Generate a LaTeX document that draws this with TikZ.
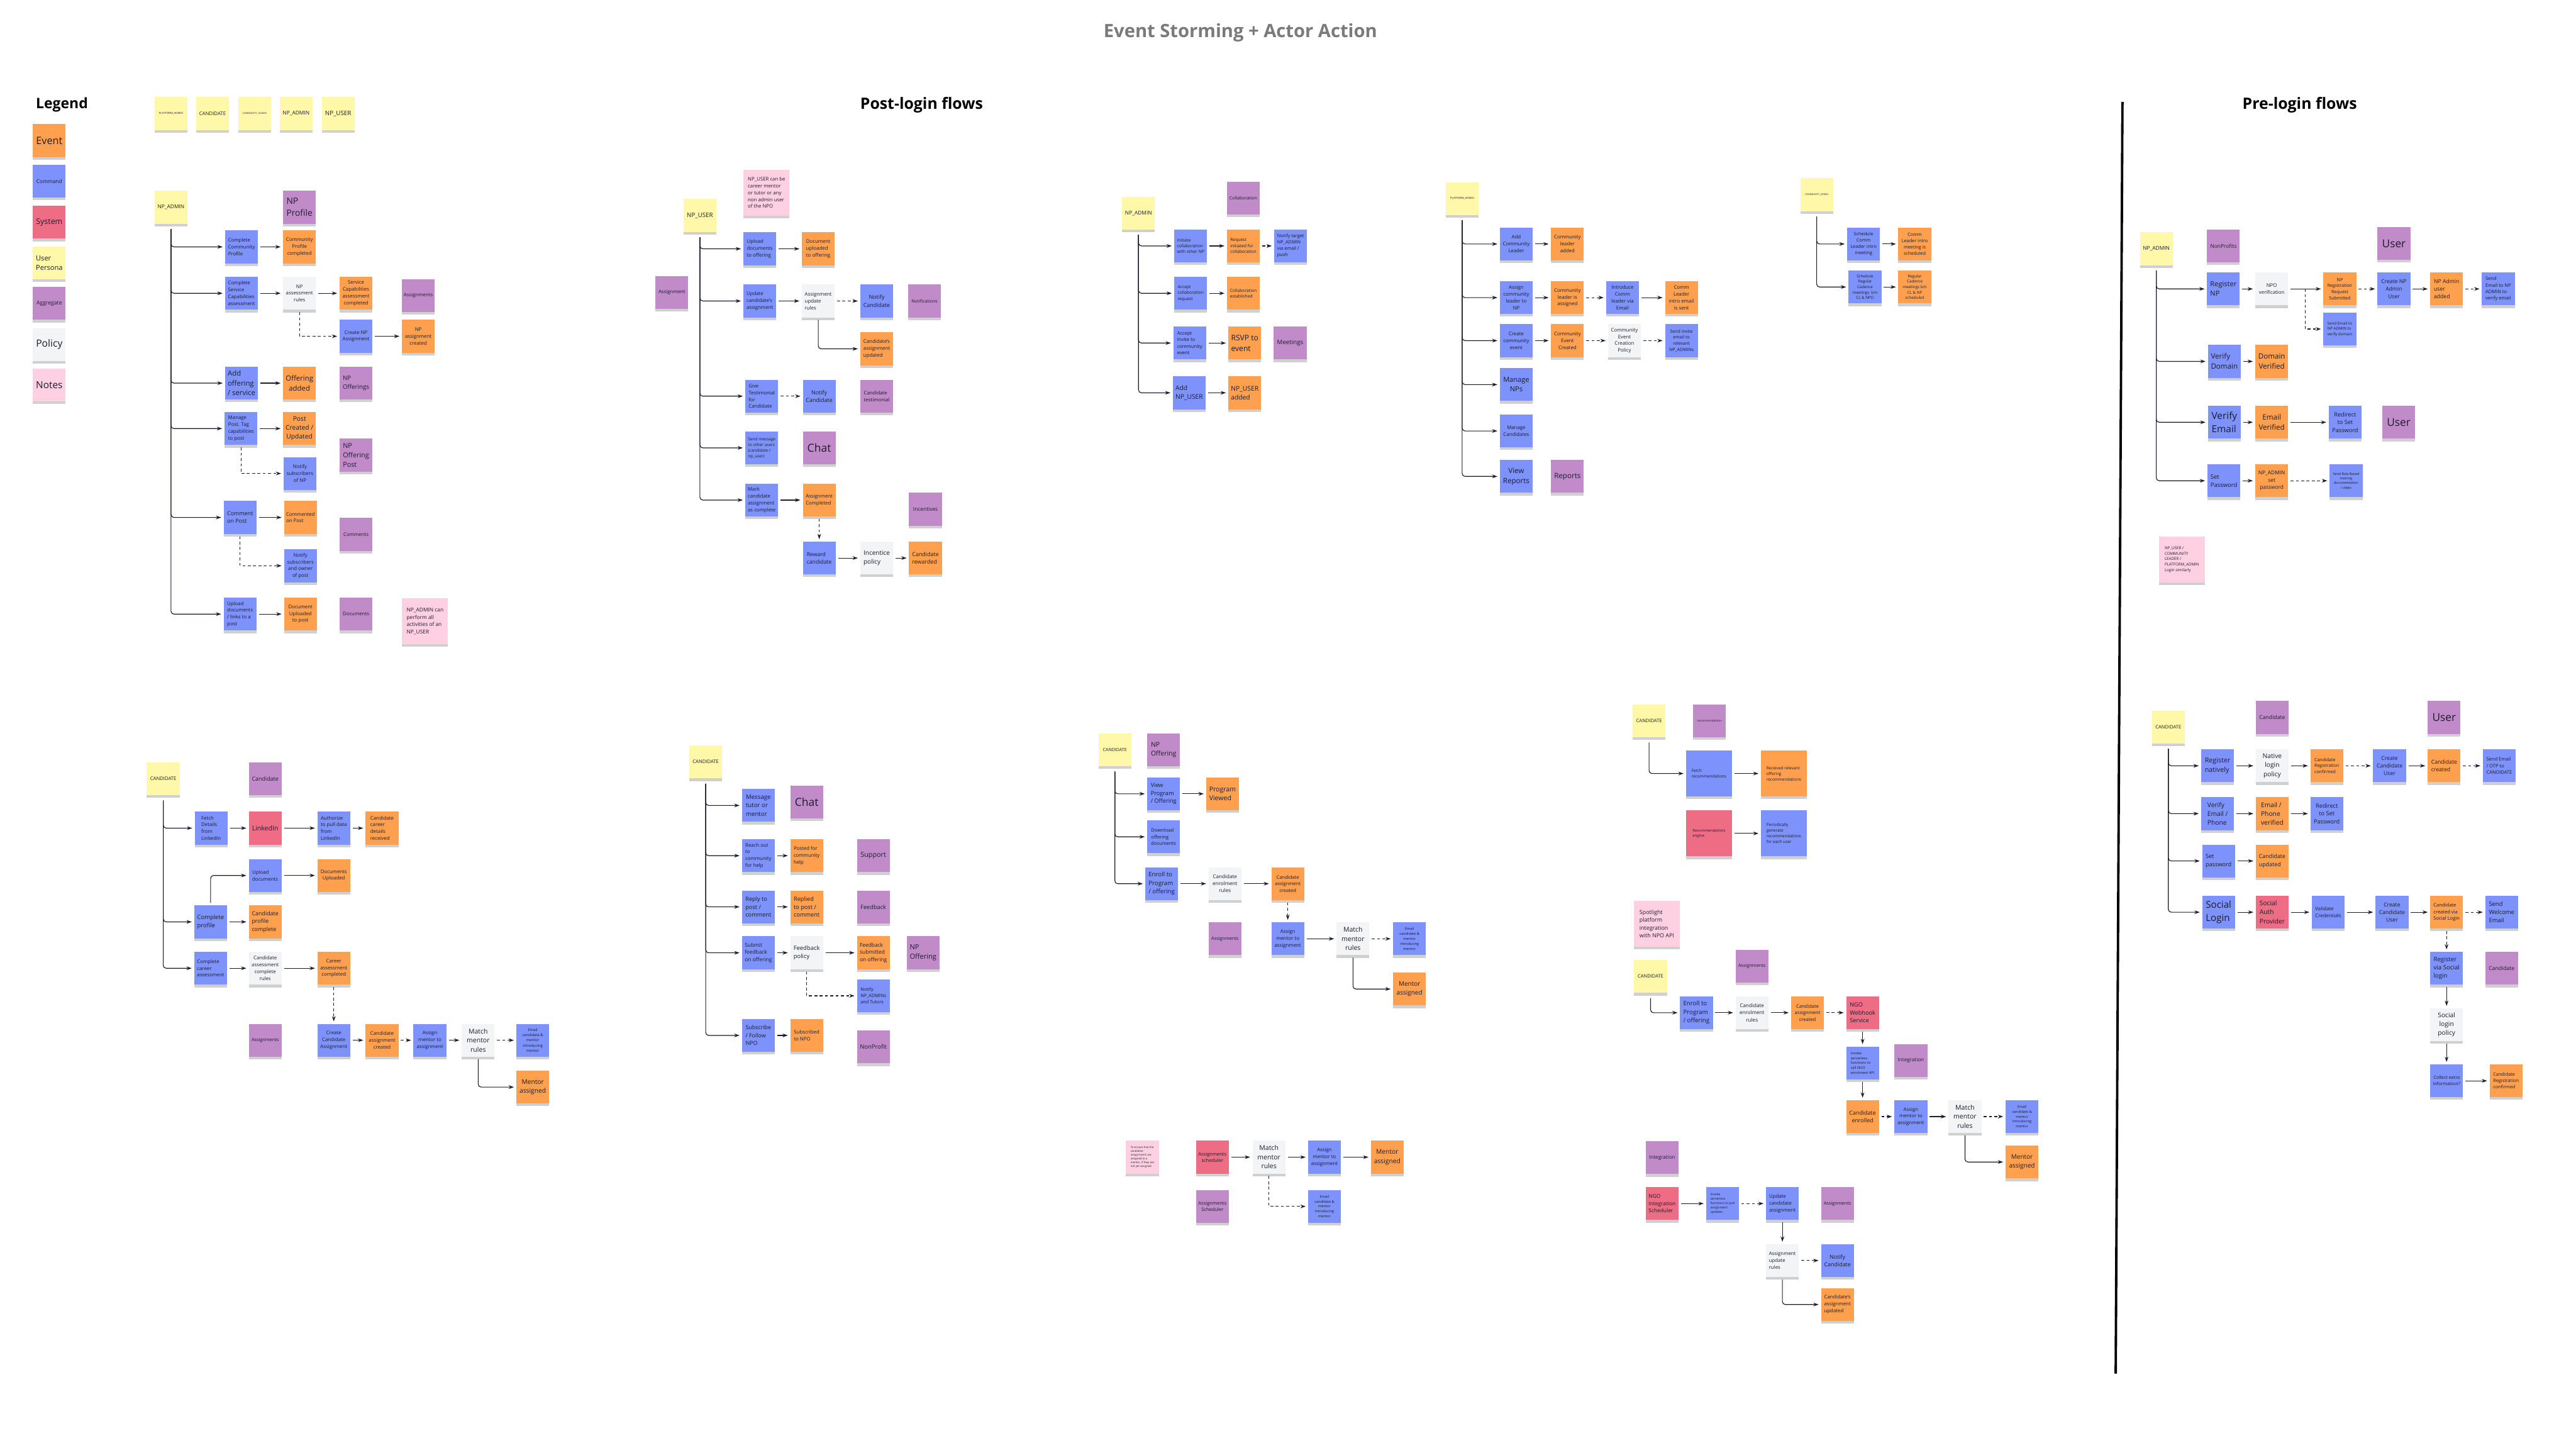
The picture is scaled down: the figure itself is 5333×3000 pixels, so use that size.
\documentclass[tikz,border=0pt]{standalone}
\usepackage{fontspec}
\setmainfont{Open Sans}
\usepackage{tikz}
\usetikzlibrary{arrows.meta,positioning,calc,shadows}
\definecolor{evorange}{HTML}{FFA04E}
\definecolor{cmdblue}{HTML}{7D92FA}
\definecolor{sysred}{HTML}{EE6C84}
\definecolor{peryellow}{HTML}{FFF8A8}
\definecolor{aggpurple}{HTML}{C18BCA}
\definecolor{polgray}{HTML}{F3F4F6}
\definecolor{notepink}{HTML}{FFD0E1}
\definecolor{ink}{HTML}{1C1C2E}
\definecolor{titlegray}{HTML}{7A7A7A}
\newcommand\fsz[1]{\pgfmathsetmacro\fszbl{#1*1.38}\fontsize{#1}{\fszbl}\selectfont}
\tikzset{
  sticky/.style={rectangle, minimum width=6.8mm, minimum height=6.8mm, inner sep=0.4mm,
    outer sep=0.5mm, align=left, font=\fsz{2.9}, text=ink,
    drop shadow={shadow xshift=0mm, shadow yshift=-0.55mm, opacity=0.3, fill=black!60}},
  event/.style={sticky, fill=evorange},
  cmd/.style={sticky, fill=cmdblue},
  sys/.style={sticky, fill=sysred},
  persona/.style={sticky, fill=peryellow, align=center},
  aggr/.style={sticky, fill=aggpurple},
  policy/.style={sticky, fill=polgray},
  note/.style={sticky, fill=notepink},
  wide/.style={minimum width=9.5mm, minimum height=9.5mm},
  fs/.style={font=\fsz{#1}},
  hdr/.style={font=\bfseries\fontsize{9.2}{11}\selectfont, text=black},
  flow/.style={draw=ink, line width=0.15mm, -{Stealth[length=1.1mm,width=0.75mm]}},
  flowd/.style={flow, dash pattern=on 0.6mm off 0.5mm},
  branch/.style={flow, rounded corners=0.6mm},
}
\begin{document}
\begin{tikzpicture}[x=0.1mm, y=-0.1mm]
  \fill[white] (0,0) rectangle (5333,3000);
  \useasboundingbox (0,0) rectangle (5333,3000);

  % Titles
  \node[font=\bfseries\fontsize{10.8}{13}\selectfont, text=titlegray] (title) at (2568,68) {Event Storming + Actor Action};
  \node[hdr] (hpost) at (1908,218) {Post-login flows};
  \node[hdr] (hpre) at (4761,218) {Pre-login flows};
  \node[hdr, font=\bfseries\fontsize{8.5}{10}\selectfont, anchor=west] (hleg) at (62,217) {Legend};
  \draw[line width=0.5mm] (4394,211) -- (4380,2843);

  % Legend
  \node[event, fs=6] (lgev) at (102,291) {Event};
  \node[cmd, fs=3.1] (lgcm) at (102,375) {Command};
  \node[sys, fs=4.6] (lgsy) at (102,460) {System};
  \node[persona, fs=4.1, align=left] (lgpe) at (102,544) {User\\Persona};
  \node[aggr, fs=3.2] (lgag) at (102,628) {Aggregate};
  \node[policy, fs=5.8] (lgpo) at (102,713) {Policy};
  \node[note, fs=5.7] (lgno) at (102,797) {Notes};

  % Personas
  \node[persona, fs=1.6] (prpa) at (354,235) {PLATFORM\_ADMIN};
  \node[persona, fs=2.9] (prca) at (440,235) {CANDIDATE};
  \node[persona, fs=1.4] (prcl) at (527,235) {COMMUNITY\_LEADER};
  \node[persona, fs=3.1] (prna) at (613,235) {NP\_ADMIN};
  \node[persona, fs=3.6] (prnu) at (700,235) {NP\_USER};

  % NP_ADMIN (post-login)
  \node[persona, fs=3.1] (aadm) at (354,429) {NP\_ADMIN};
  \node[aggr, fs=5.1] (aprof) at (620,429) {NP\\Profile};
  \node[cmd] (ac1) at (500,511) {Complete\\Community\\Profile};
  \node[event, align=center] (ae1) at (620,511) {Community\\Profile\\completed};
  \node[cmd] (ac2) at (500,607) {Complete\\Service\\Capabilities\\assessment};
  \node[policy, align=center] (ap2) at (620,607) {NP\\assessment\\rules};
  \node[event, align=center] (ae2) at (737,607) {Service\\Capabilities\\assessment\\completed};
  \node[aggr] (aag2) at (866,612) {Assignments};
  \node[cmd, align=center] (ac2b) at (737,696) {Create NP\\Assignment};
  \node[event, align=center] (ae2b) at (866,696) {NP\\assignment\\created};
  \node[cmd, fs=4.2] (ac3) at (500,793) {Add\\offering\\/ service};
  \node[event, fs=4.2, align=center] (ae3) at (620,793) {Offering\\added};
  \node[aggr, fs=3.6] (aag3) at (737,793) {NP\\Offerings};
  \node[cmd] (ac4) at (499,887) {Manage\\Post. Tag\\capabilities\\to post};
  \node[event, fs=3.8, align=center] (ae4) at (620,887) {Post\\Created /\\Updated};
  \node[aggr, fs=4] (aag4) at (737,942) {NP\\Offering\\Post};
  \node[cmd, align=center] (ac4b) at (621,980) {Notify\\subscribers\\of NP};
  \node[cmd, fs=3.3] (ac5) at (497,1071) {Comment\\on Post};
  \node[event] (ae5) at (622,1071) {Commented\\on Post};
  \node[aggr] (aag5) at (737,1106) {Comments};
  \node[cmd, align=center] (ac5b) at (622,1171) {Notify\\subscribers\\and owner\\of post};
  \node[cmd] (ac6) at (497,1271) {Upload\\documents\\/ links to a\\post};
  \node[event, align=center] (ae6) at (622,1271) {Document\\Uploaded\\to post};
  \node[aggr] (aag6) at (737,1271) {Documents};
  \node[note, wide, fs=3.1] (anote) at (880,1286) {NP\_ADMIN can\\perform all\\activities of an\\NP\_USER};
  \foreach \n in {ac1,ac2,ac3,ac4,ac5,ac6} {
    \draw[branch] ($(aadm.south)+(0,6)$) |- (\n.west);
  }
  \draw[flow] (ac1) -- (ae1);
  \draw[flow] (ac2) -- (ap2);
  \draw[flow] (ap2) -- (ae2);
  \draw[flowd] (ap2.south) |- (ac2b.west);
  \draw[flow] (ac2b) -- (ae2b);
  \draw[flow] (ac3) -- (ae3);
  \draw[flow] (ac4) -- (ae4);
  \draw[flowd] (ac4.south) |- (ac4b.west);
  \draw[flow] (ac5) -- (ae5);
  \draw[flowd] (ac5.south) |- (ac5b.west);
  \draw[flow] (ac6) -- (ae6);

  % NP_USER
  \node[persona, fs=3.6] (badm) at (1449,446) {NP\_USER};
  \node[note, wide, fs=2.9] (bnote) at (1587,399) {NP\_USER can be\\career mentor\\or tutor or any\\non admin user\\of the NPO};
  \node[aggr] (bag) at (1391,605) {Assignment};
  \node[cmd] (bc1) at (1573,515) {Upload\\documents\\to offering};
  \node[event] (be1) at (1694,515) {Document\\uploaded\\to offering};
  \node[cmd] (bc2) at (1573,623) {Update\\candidate's\\assignment};
  \node[policy] (bp2) at (1694,623) {Assignment\\update\\rules};
  \node[cmd, fs=3.3, align=center] (bc2b) at (1815,623) {Notify\\Candidate};
  \node[aggr, fs=2.6] (bag2) at (1914,623) {Notifications};
  \node[event] (be2) at (1815,722) {Candidate's\\assignment\\updated};
  \node[cmd] (bc3) at (1577,820) {Give\\Testimonial\\for\\Candidate};
  \node[cmd, fs=3.3, align=center] (bc3b) at (1696,820) {Notify\\Candidate};
  \node[aggr] (bag3) at (1815,820) {Candidate\\testimonial};
  \node[cmd, fs=2.4] (bc4) at (1577,927) {Send message\\to other users\\(candidate /\\np\_user)};
  \node[aggr, fs=6.5] (bag4) at (1696,927) {Chat};
  \node[cmd] (bc5) at (1577,1035) {Mark\\candidate\\assignment\\as complete};
  \node[event] (be5) at (1696,1035) {Assignment\\Completed};
  \node[aggr, fs=3.1] (bag5) at (1916,1054) {Incentives};
  \node[cmd, fs=3.2] (bc6) at (1696,1155) {Reward\\candidate};
  \node[policy, fs=3.7] (bp6) at (1815,1155) {Incentice\\policy};
  \node[event, fs=3.3] (be6) at (1916,1155) {Candidate\\rewarded};
  \foreach \n in {bc1,bc2,bc3,bc4,bc5} {
    \draw[branch] ($(badm.south)+(0,6)$) |- (\n.west);
  }
  \draw[flow] (bc1) -- (be1);
  \draw[flow] (bc2) -- (bp2);
  \draw[flowd] (bp2) -- (bc2b);
  \draw[branch] (bp2.south) |- (be2.west);
  \draw[flowd] (bc3) -- (bc3b);
  \draw[flow] (bc5) -- (be5);
  \draw[flowd] (be5) -- (bc6);
  \draw[flow] (bc6) -- (bp6);
  \draw[flow] (bp6) -- (be6);

  % NP_ADMIN collaboration
  \node[persona, fs=3.1] (cadm) at (2357,441) {NP\_ADMIN};
  \node[aggr, fs=2.6] (cag) at (2574,410) {Collaboration};
  \node[cmd, fs=2.5] (cc1) at (2465,509) {Initiate\\collaboration\\with other NP};
  \node[event, fs=2.5] (ce1) at (2574,509) {Request\\initiated for\\collaboration};
  \node[cmd, fs=2.7] (cc1b) at (2672,509) {Notify target\\NP\_ADMIN\\via email /\\push};
  \node[cmd, fs=2.5] (cc2) at (2465,607) {Accept\\collaboration\\request};
  \node[event, fs=2.5] (ce2) at (2574,607) {Collaboration\\established};
  \node[cmd, fs=2.8] (cc3) at (2463,710) {Accept\\Invite to\\community\\event};
  \node[event, fs=4.5] (ce3) at (2577,710) {RSVP to\\event};
  \node[aggr, fs=3.6] (cag3) at (2671,710) {Meetings};
  \node[cmd, fs=3.8] (cc4) at (2462,813) {Add\\NP\_USER};
  \node[event, fs=3.8] (ce4) at (2577,813) {NP\_USER\\added};
  \foreach \n in {cc1,cc2,cc3,cc4} {
    \draw[branch] ($(cadm.south)+(0,6)$) |- (\n.west);
  }
  \draw[flow] (cc1) -- (ce1);
  \draw[flowd] (ce1) -- (cc1b);
  \draw[flow] (cc2) -- (ce2);
  \draw[flow] (cc3) -- (ce3);
  \draw[flow] (cc4) -- (ce4);

  % PLATFORM_ADMIN
  \node[persona, fs=1.6] (dadm) at (3027,411) {PLATFORM\_ADMIN};
  \node[cmd, align=center] (dc1) at (3139,505) {Add\\Community\\Leader};
  \node[event, align=center] (de1) at (3245,505) {Community\\leader\\added};
  \node[cmd, align=center] (dc2) at (3139,616) {Assign\\community\\leader to\\NP};
  \node[event, align=center] (de2) at (3245,616) {Community\\leader is\\assigned};
  \node[cmd, align=center] (dc2b) at (3359,616) {Introduce\\Comm\\leader via\\Email};
  \node[event, align=center] (de2b) at (3481,616) {Comm\\Leader\\intro email\\is sent};
  \node[cmd, align=center] (dc3) at (3139,705) {Create\\community\\event};
  \node[event, align=center] (de3) at (3245,705) {Community\\Event\\Created};
  \node[policy, align=center] (dp3) at (3363,705) {Community\\Event\\Creation\\Policy};
  \node[cmd, align=center, fs=2.6] (dc3b) at (3481,705) {Send invite\\email to\\relevant\\NP\_ADMINs};
  \node[cmd, align=center, fs=4.1] (dc4) at (3139,796) {Manage\\NPs};
  \node[cmd, align=center] (dc5) at (3139,892) {Manage\\Candidates};
  \node[cmd, align=center, fs=4.3] (dc6) at (3139,986) {View\\Reports};
  \node[aggr, fs=4.3] (dag6) at (3245,986) {Reports};
  \foreach \n in {dc1,dc2,dc3,dc4,dc5,dc6} {
    \draw[branch] ($(dadm.south)+(0,6)$) |- (\n.west);
  }
  \draw[flow] (dc1) -- (de1);
  \draw[flow] (dc2) -- (de2);
  \draw[flowd] (de2) -- (dc2b);
  \draw[flow] (dc2b) -- (de2b);
  \draw[flow] (dc3) -- (de3);
  \draw[flowd] (de3) -- (dp3);
  \draw[flowd] (dp3) -- (dc3b);

  % COMMUNITY_ADMIN
  \node[persona, fs=1.4] (eadm) at (3761,403) {COMMUNITY\_ADMIN};
  \node[cmd, align=center, fs=2.7] (ec1) at (3858,505) {Schedule\\Comm\\Leader intro\\meeting};
  \node[event, align=center, fs=2.7] (ee1) at (3964,505) {Comm\\Leader intro\\meeting is\\scheduled};
  \node[cmd, align=center, fs=2.3] (ec2) at (3861,594) {Schedule\\Regular\\Cadence\\meetings~~b/n\\CL \& NPO};
  \node[event, align=center, fs=2.3] (ee2) at (3964,594) {Regular\\Cadence\\meetings b/n\\CL \& NP\\scheduled};
  \foreach \n in {ec1,ec2} {
    \draw[branch] ($(eadm.south)+(0,6)$) |- (\n.west);
  }
  \draw[flow] (ec1) -- (ee1);
  \draw[flow] (ec2) -- (ee2);

  % Pre-login: NP_ADMIN
  \node[persona, fs=3.1] (fadm) at (4464,515) {NP\_ADMIN};
  \node[aggr, fs=3.1] (fag) at (4603,509) {NonProfits};
  \node[aggr, fs=6.4] (fag2) at (4956,504) {User};
  \node[cmd, fs=4.1] (fc1) at (4603,598) {Register\\NP};
  \node[policy, align=center] (fp1) at (4703,598) {NPO\\verification};
  \node[event, align=center, fs=2.6] (fe1) at (4844,598) {NP\\Registration\\Request\\Submitted};
  \node[cmd, align=center, fs=3.2] (fc1b) at (4956,598) {Create NP\\Admin\\User};
  \node[event, fs=3.2] (fe1b) at (5065,598) {NP Admin\\user\\added};
  \node[cmd, fs=2.8] (fc1c) at (5172,598) {Send\\Email to NP\\ADMIN to\\verify email};
  \node[cmd, fs=2.3] (fc1d) at (4844,681) {Send Email to\\NP ADMIN to\\verify domain};
  \node[cmd, fs=4.3] (fc2) at (4605,748) {Verify\\Domain};
  \node[event, fs=4.3, align=center] (fe2) at (4703,748) {Domain\\Verified};
  \node[cmd, fs=5.7] (fc3) at (4605,874) {Verify\\Email};
  \node[event, fs=4.3, align=center] (fe3) at (4703,874) {Email\\Verified};
  \node[cmd, fs=3.4, align=center] (fc3b) at (4855,874) {Redirect\\to Set\\Password};
  \node[aggr, fs=6.4] (fag3) at (4966,874) {User};
  \node[cmd, fs=3.5] (fc4) at (4604,995) {Set\\Password};
  \node[event, fs=3.1, align=center] (fe4) at (4703,995) {NP\_ADMIN\\set\\password};
  \node[cmd, fs=2, align=center] (fc4b) at (4857,995) {Send Role Based\\training\\documentation\\/ video};
  \node[note, wide, fs=2.3] (fnote) at (4517,1158) {NP\_USER /\\COMMUNITY\\LEADER /\\PLATFORM\_ADMIN\\Login similarly};
  \foreach \n in {fc1,fc2,fc3,fc4} {
    \draw[branch] ($(fadm.south)+(0,6)$) |- (\n.west);
  }
  \draw[flow] (fc1) -- (fp1);
  \draw[flow] (fp1) -- (fe1);
  \coordinate (fsplit) at ($(fp1.east)!0.48!(fe1.west)$);
  \draw[flowd] (fsplit) |- (fc1d.west);
  \draw[flowd] (fe1) -- (fc1b);
  \draw[flow] (fc1b) -- (fe1b);
  \draw[flowd] (fe1b) -- (fc1c);
  \draw[flow] (fc2) -- (fe2);
  \draw[flow] (fc3) -- (fe3);
  \draw[flow] (fe3) -- (fc3b);
  \draw[flow] (fc4) -- (fe4);
  \draw[flowd] (fe4) -- (fc4b);

  % CANDIDATE: profile and assessment
  \node[persona, fs=2.85] (gadm) at (338,1612) {CANDIDATE};
  \node[aggr, fs=3.3] (gag) at (549,1612) {Candidate};
  \node[cmd] (gc1) at (437,1714) {Fetch\\Details\\from\\LinkedIn};
  \node[sys, fs=3.9] (gs1) at (549,1714) {LinkedIn};
  \node[cmd] (gc1b) at (691,1714) {Authorize\\to pull data\\from\\LinkedIn};
  \node[event] (ge1) at (791,1714) {Candidate\\career\\details\\received};
  \node[cmd] (gc2b) at (549,1812) {Upload\\documents};
  \node[event, align=center] (ge2b) at (691,1812) {Documents\\Uploaded};
  \node[cmd, fs=3.5] (gc2) at (436,1908) {Complete\\profile};
  \node[event, fs=3.3] (ge2) at (549,1908) {Candidate\\profile\\complete};
  \node[cmd] (gc3) at (436,2004) {Complete\\career\\assessment};
  \node[policy, align=center] (gp3) at (549,2004) {Candidate\\assessment\\complete\\rules};
  \node[event, align=center] (ge3) at (691,2004) {Career\\assessment\\completed};
  \node[aggr, fs=2.7] (gag4) at (549,2153) {Assignments};
  \node[cmd, align=center] (gc4) at (691,2153) {Create\\Candidate\\Assignment};
  \node[event, align=center] (ge4) at (791,2153) {Candidate\\assignment\\created};
  \node[cmd, align=center] (gc4b) at (890,2153) {Assign\\mentor to\\assignment};
  \node[policy, align=center, fs=3.9] (gp4) at (990,2153) {Match\\mentor\\rules};
  \node[cmd, align=center, fs=2.2] (gc4c) at (1103,2153) {Email\\candidate \&\\mentor\\introducing\\mentor};
  \node[event, align=center, fs=3.8] (ge4b) at (1103,2250) {Mentor\\assigned};
  \foreach \n in {gc1,gc2,gc3} {
    \draw[branch] ($(gadm.south)+(0,6)$) |- (\n.west);
  }
  \draw[flow] (gc1) -- (gs1);
  \draw[flow] (gs1) -- (gc1b);
  \draw[flow] (gc1b) -- (ge1);
  \draw[branch] (gc2.north) |- (gc2b.west);
  \draw[flow] (gc2b) -- (ge2b);
  \draw[flow] (gc2) -- (ge2);
  \draw[flow] (gc3) -- (gp3);
  \draw[flow] (gp3) -- (ge3);
  \draw[flowd] (ge3) -- (gc4);
  \draw[flow] (gc4) -- (ge4);
  \draw[flowd] (ge4) -- (gc4b);
  \draw[flow] (gc4b) -- (gp4);
  \draw[flowd] (gp4) -- (gc4c);
  \draw[branch] (gp4.south) |- (ge4b.west);

  % CANDIDATE: community
  \node[persona, fs=2.85] (hadm) at (1461,1577) {CANDIDATE};
  \node[cmd, fs=3.6] (hc1) at (1570,1667) {Message\\tutor or\\mentor};
  \node[aggr, fs=6.5] (hag1) at (1670,1660) {Chat};
  \node[cmd] (hc2) at (1570,1771) {Reach out\\to\\community\\for help};
  \node[event] (he2) at (1670,1771) {Posted for\\community\\help};
  \node[aggr, fs=4] (hag2) at (1808,1771) {Support};
  \node[cmd, fs=3.4] (hc3) at (1570,1877) {Reply to\\post /\\comment};
  \node[event, fs=3.4] (he3) at (1670,1877) {Replied\\to post /\\comment};
  \node[aggr, fs=3.4] (hag3) at (1808,1877) {Feedback};
  \node[cmd, fs=3.1] (hc4) at (1570,1972) {Submit\\feedback\\on offering};
  \node[policy, fs=3.5] (hp4) at (1670,1972) {Feedback\\policy};
  \node[event, fs=3.1] (he4) at (1808,1972) {Feedback\\submitted\\on offering};
  \node[aggr, fs=4.1] (hag4) at (1911,1972) {NP\\Offering};
  \node[cmd, fs=2.7] (hc4b) at (1808,2061) {Notify\\NP\_ADMINs\\and Tutors};
  \node[cmd, fs=3.3] (hc5) at (1570,2143) {Subscribe\\/ Follow\\NPO};
  \node[event, fs=2.9] (he5) at (1670,2143) {Subscribed\\to NPO};
  \node[aggr, fs=3.5] (hag5) at (1808,2167) {NonProfit};
  \foreach \n in {hc1,hc2,hc3,hc4,hc5} {
    \draw[branch] ($(hadm.south)+(0,6)$) |- (\n.west);
  }
  \draw[flow] (hc2) -- (he2);
  \draw[flow] (hc3) -- (he3);
  \draw[flow] (hc4) -- (hp4);
  \draw[flow] (hp4) -- (he4);
  \draw[flowd] (hp4.south) |- (hc4b.west);
  \draw[flow] (hc5) -- (he5);

  % CANDIDATE: programs
  \node[persona, fs=2.6] (iadm) at (2308,1552) {CANDIDATE};
  \node[aggr, fs=3.9] (iag) at (2409,1552) {NP\\Offering};
  \node[cmd, fs=3.4] (ic1) at (2409,1643) {View\\Program\\/ Offering};
  \node[event, fs=3.9] (ie1) at (2531,1643) {Program\\Viewed};
  \node[cmd, fs=2.8] (ic2) at (2409,1732) {Download\\offering\\documents};
  \node[cmd, fs=3.6] (ic3) at (2405,1829) {Enroll to\\Program\\/ offering};
  \node[policy, align=center, fs=3] (ip3) at (2536,1829) {Candidate\\enrolment\\rules};
  \node[event, align=center, fs=2.8] (ie3) at (2666,1829) {Candidate\\assignment\\created};
  \node[aggr, fs=2.7] (iag4) at (2536,1943) {Assignments};
  \node[cmd, align=center] (ic4) at (2666,1943) {Assign\\mentor to\\assignment};
  \node[policy, align=center, fs=3.9] (ip4) at (2801,1943) {Match\\mentor\\rules};
  \node[cmd, align=center, fs=2.1] (ic4b) at (2918,1943) {Email\\candidate \&\\mentor\\introducing\\mentor};
  \node[event, align=center, fs=3.7] (ie4) at (2918,2047) {Mentor\\assigned};
  \node[note, fs=1.6] (inote) at (2365,2395) {To ensure that the\\candidate\\assignments are\\assigned to a\\mentor, if they are\\not yet assigned};
  \node[sys, align=center, fs=2.8] (is5) at (2510,2395) {Assignments\\scheduler};
  \node[policy, align=center, fs=3.9] (ip5) at (2627,2395) {Match\\mentor\\rules};
  \node[cmd, align=center] (ic5) at (2742,2395) {Assign\\mentor to\\assignment};
  \node[event, align=center, fs=3.8] (ie5) at (2872,2395) {Mentor\\assigned};
  \node[cmd, align=center, fs=2.1] (ic5b) at (2742,2497) {Email\\candidate \&\\mentor\\introducing\\mentor};
  \node[aggr, align=center, fs=2.8] (iag5) at (2510,2497) {Assignments\\Scheduler};
  \foreach \n in {ic1,ic2,ic3} {
    \draw[branch] ($(iadm.south)+(0,6)$) |- (\n.west);
  }
  \draw[flow] (ic1) -- (ie1);
  \draw[flow] (ic3) -- (ip3);
  \draw[flow] (ip3) -- (ie3);
  \draw[flowd] (ie3) -- (ic4);
  \draw[flow] (ic4) -- (ip4);
  \draw[flowd] (ip4) -- (ic4b);
  \draw[branch] (ip4.south) |- (ie4.west);
  \draw[flow] (is5) -- (ip5);
  \draw[flow] (ip5) -- (ic5);
  \draw[flow] (ic5) -- (ie5);
  \draw[flowd] (ip5.south) |- (ic5b.west);

  % CANDIDATE: recommendations and NGO integration
  \node[persona, fs=2.8] (jadm) at (3414,1492) {CANDIDATE};
  \node[aggr, fs=1.7] (jag) at (3539,1492) {recommendations};
  \node[cmd, wide, fs=2.4] (jc1) at (3538,1601) {Fetch\\recommendations};
  \node[event, wide, fs=2.4] (je1) at (3693,1601) {Received relevant\\offering\\recommendations};
  \node[sys, wide, fs=2.2] (js2) at (3538,1725) {Recommendations\\engine};
  \node[cmd, wide, fs=2.4] (jc2) at (3693,1725) {Periodically\\generate\\recommendations\\for each user};
  \node[note, wide, fs=3.3] (jnote) at (3430,1912) {Spotlight\\platform\\integration\\with NPO API};
  \node[persona, fs=2.8] (jadm2) at (3417,2021) {CANDIDATE};
  \node[aggr, fs=2.7] (jag2) at (3627,2000) {Assignments};
  \node[cmd, fs=3.6] (jc3) at (3512,2096) {Enroll to\\Program\\/ offering};
  \node[policy, align=center, fs=3] (jp3) at (3627,2096) {Candidate\\enrolment\\rules};
  \node[event, align=center, fs=2.8] (je3) at (3742,2096) {Candidate\\assignment\\created};
  \node[sys, fs=3.4] (js3) at (3856,2096) {NGO\\Webhook\\Service};
  \node[cmd, fs=2.1] (jc3b) at (3856,2200) {Invoke\\serverless\\functions to\\call NGO\\enrolment API};
  \node[aggr, fs=3] (jag3) at (3956,2195) {Integration};
  \node[event, align=center, fs=3.3] (je3b) at (3856,2311) {Candidate\\enrolled};
  \node[cmd, align=center] (jc3c) at (3956,2311) {Assign\\mentor to\\assignment};
  \node[policy, align=center, fs=3.9] (jp3c) at (4068,2311) {Match\\mentor\\rules};
  \node[cmd, align=center, fs=2.1] (jc3d) at (4186,2311) {Email\\candidate \&\\mentor\\introducing\\mentor};
  \node[event, align=center, fs=3.7] (je3c) at (4186,2405) {Mentor\\assigned};
  \node[aggr, fs=3] (jag4) at (3441,2396) {Integration};
  \node[sys, fs=3.1] (js4) at (3441,2491) {NGO\\Integration\\Scheduler};
  \node[cmd, fs=1.9] (jc4) at (3566,2491) {Invoke\\serverless\\functions to pull\\assignment\\updates};
  \node[cmd] (jc4b) at (3690,2491) {Update\\candidate\\assignment};
  \node[aggr, fs=2.7] (jag4b) at (3804,2491) {Assignments};
  \node[policy] (jp4) at (3690,2609) {Assignment\\update\\rules};
  \node[cmd, align=center, fs=3.3] (jc4c) at (3804,2609) {Notify\\Candidate};
  \node[event] (je4) at (3804,2700) {Candidate's\\assignment\\updated};
  \draw[branch] ($(jadm.south)+(0,6)$) |- (jc1.west);
  \draw[flow] (jc1) -- (je1);
  \draw[flow] (js2) -- (jc2);
  \draw[branch] ($(jadm2.south)+(0,6)$) |- (jc3.west);
  \draw[flow] (jc3) -- (jp3);
  \draw[flow] (jp3) -- (je3);
  \draw[flowd] (je3) -- (js3);
  \draw[flow] (js3) -- (jc3b);
  \draw[flow] (jc3b) -- (je3b);
  \draw[flowd] (je3b) -- (jc3c);
  \draw[flow] (jc3c) -- (jp3c);
  \draw[flowd] (jp3c) -- (jc3d);
  \draw[branch] (jp3c.south) |- (je3c.west);
  \draw[flow] (js4) -- (jc4);
  \draw[flowd] (jc4) -- (jc4b);
  \draw[flow] (jc4b) -- (jp4);
  \draw[flowd] (jp4) -- (jc4c);
  \draw[branch] (jp4.south) |- (je4.west);

  % Pre-login: CANDIDATE
  \node[persona, fs=2.8] (kadm) at (4489,1505) {CANDIDATE};
  \node[aggr, fs=3.2] (kag) at (4704,1485) {Candidate};
  \node[aggr, fs=6.4] (kag2) at (5060,1485) {User};
  \node[cmd, fs=4] (kc1) at (4591,1585) {Register\\natively};
  \node[policy, align=center, fs=3.8] (kp1) at (4704,1585) {Native\\login\\policy};
  \node[event, fs=2.6] (ke1) at (4817,1585) {Candidate\\Registration\\confirmed};
  \node[cmd, align=center, fs=3.2] (kc1b) at (4947,1585) {Create\\Candidate\\User};
  \node[event, fs=3.2] (ke1b) at (5060,1585) {Candidate\\created};
  \node[cmd, fs=2.8] (kc1c) at (5174,1585) {Send Email\\/ OTP to\\CANDIDATE};
  \node[cmd, fs=3.8] (kc2) at (4591,1684) {Verify\\Email /\\Phone};
  \node[event, fs=3.8] (ke2) at (4704,1684) {Email /\\Phone\\verified};
  \node[cmd, align=center, fs=3.4] (kc2b) at (4817,1684) {Redirect\\to Set\\Password};
  \node[cmd, fs=3.4] (kc3) at (4593,1782) {Set\\password};
  \node[event, fs=3.3] (ke3) at (4704,1782) {Candidate\\updated};
  \node[cmd, fs=5.6] (kc4) at (4593,1888) {Social\\Login};
  \node[sys, fs=3.8] (ks4) at (4704,1888) {Social\\Auth\\Provider};
  \node[cmd, fs=2.9] (kc4b) at (4820,1888) {Validate\\Credentials};
  \node[cmd, align=center, fs=3.2] (kc4c) at (4952,1888) {Create\\Candidate\\User};
  \node[event, fs=2.8] (ke4) at (5065,1888) {Candidate\\created via\\Social Login};
  \node[cmd, fs=3.5] (kc4d) at (5179,1888) {Send\\Welcome\\Email};
  \node[cmd, fs=3.6] (kc5) at (5065,2004) {Register\\via Social\\login};
  \node[aggr, fs=3.2] (kag5) at (5179,2004) {Candidate};
  \node[policy, align=center, fs=3.8] (kp6) at (5065,2121) {Social\\login\\policy};
  \node[cmd, align=center, fs=2.7] (kc7) at (5065,2237) {Collect extra\\information?};
  \node[event, fs=2.7] (ke7) at (5188,2237) {Candidate\\Registration\\confirmed};
  \foreach \n in {kc1,kc2,kc3,kc4} {
    \draw[branch] ($(kadm.south)+(0,6)$) |- (\n.west);
  }
  \draw[flow] (kc1) -- (kp1);
  \draw[flow] (kp1) -- (ke1);
  \draw[flowd] (ke1) -- (kc1b);
  \draw[flow] (kc1b) -- (ke1b);
  \draw[flowd] (ke1b) -- (kc1c);
  \draw[flow] (kc2) -- (ke2);
  \draw[flow] (ke2) -- (kc2b);
  \draw[flow] (kc3) -- (ke3);
  \draw[flow] (kc4) -- (ks4);
  \draw[flow] (ks4) -- (kc4b);
  \draw[flow] (kc4b) -- (kc4c);
  \draw[flow] (kc4c) -- (ke4);
  \draw[flowd] (ke4) -- (kc4d);
  \draw[flowd] (ke4) -- (kc5);
  \draw[flow] (kc5) -- (kp6);
  \draw[flow] (kp6) -- (kc7);
  \draw[flow] (kc7) -- (ke7);
\end{tikzpicture}
\end{document}
